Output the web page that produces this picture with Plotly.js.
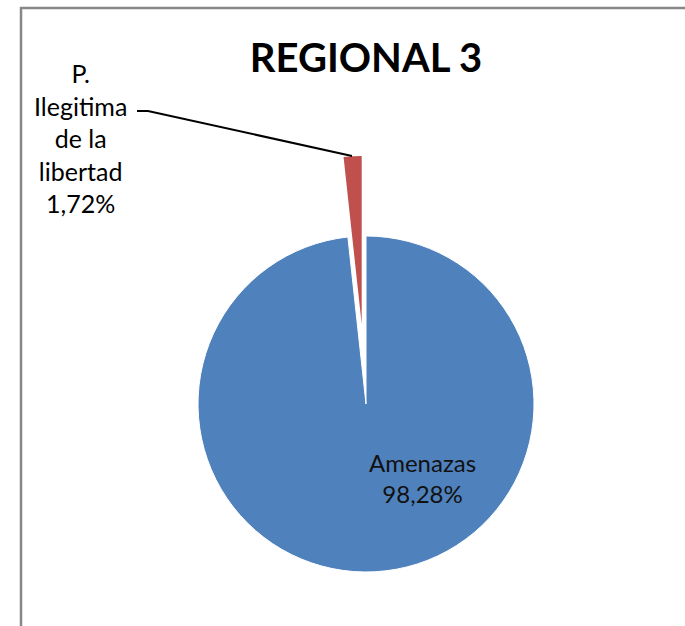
<!DOCTYPE html>
<html>
<head>
<meta charset="utf-8">
<script src="https://cdn.plot.ly/plotly-3.0.1.min.js"></script>
<style>html,body{margin:0;padding:0;background:#fff;overflow:hidden}#chart{width:685px;height:626px}</style>
</head>
<body>
<div id="chart"></div>
<script>
// ---- data ----
var chartTitle = 'REGIONAL 3';
var categories = ['Amenazas', 'P. Ilegitima de la libertad'];
var percents = [98.28, 1.72];
var sliceColors = ['#4F81BD', '#C0504D'];

// ---- helpers ----
function fmtPct(v) { return v.toFixed(2).replace('.', ',') + '%'; }
function wrap(s, maxLen) {
  var words = s.split(' '), lines = [], cur = '';
  words.forEach(function (w) {
    if (cur && (cur + ' ' + w).length > maxLen) { lines.push(cur); cur = w; }
    else { cur = cur ? cur + ' ' + w : w; }
  });
  if (cur) lines.push(cur);
  return lines.join('<br>');
}

var W = 685, H = 626;
var R = 168;
var cx = 366, cy = 404;          // pie centre (px from top-left)
var explode = 80;                 // explode distance for the small slice (px)

function domainFor(x, y, r) {
  return {
    x: [(x - r) / W, (x + r) / W],
    y: [1 - (y + r) / H, 1 - (y - r) / H]
  };
}

// direction of the bisector of the small slice (clockwise from 12 o'clock)
var total = percents.reduce(function (a, b) { return a + b; }, 0);
var midAngle = (percents[0] + percents[1] / 2) / total * 2 * Math.PI;
var ex = cx + explode * Math.sin(midAngle);
var ey = cy - explode * Math.cos(midAngle);

var mainPie = {
  type: 'pie',
  labels: categories,
  values: percents,
  sort: false,
  direction: 'clockwise',
  rotation: 0,
  textinfo: 'none',
  hoverinfo: 'label+percent',
  marker: { colors: [sliceColors[0], 'rgba(0,0,0,0)'], line: { color: '#ffffff', width: [1, 0] } },
  domain: domainFor(cx, cy, R),
  showlegend: false
};

var explodedPie = {
  type: 'pie',
  labels: categories,
  values: percents,
  sort: false,
  direction: 'clockwise',
  rotation: 0,
  textinfo: 'none',
  hoverinfo: 'label+percent',
  marker: { colors: ['rgba(0,0,0,0)', sliceColors[1]], line: { color: '#ffffff', width: [0, 0] } },
  domain: domainFor(ex, ey, R),
  showlegend: false
};

var labelFont = { family: 'Lato, "Liberation Sans", sans-serif', color: '#000000' };

var layout = {
  width: W,
  height: H,
  margin: { l: 0, r: 0, t: 0, b: 0 },
  paper_bgcolor: '#ffffff',
  showlegend: false,
  title: {
    text: '<b>' + chartTitle + '</b>',
    font: { family: 'Lato, "Liberation Sans", sans-serif', size: 40, color: '#000000' },
    x: 366 / W, xanchor: 'center',
    y: 1 - 58 / H, yanchor: 'middle',
    xref: 'paper', yref: 'container'
  },
  shapes: [
    { type: 'rect', xref: 'paper', yref: 'paper',
      x0: 21 / W, x1: 1.05, y0: -0.1, y1: 1 - 8 / H,
      line: { color: '#878787', width: 2.5 }, fillcolor: 'rgba(0,0,0,0)' },
    { type: 'path', xref: 'paper', yref: 'paper',
      path: 'M' + (137 / W) + ',' + (1 - 111 / H) +
            ' L' + (148 / W) + ',' + (1 - 111 / H) +
            ' L' + (352 / W) + ',' + (1 - 156 / H),
      line: { color: '#000000', width: 2 } }
  ],
  annotations: [
    { xref: 'paper', yref: 'paper', x: 422 / W, y: 1 - 478 / H,
      xanchor: 'center', yanchor: 'middle', showarrow: false, align: 'center',
      text: wrap(categories[0], 9) + '<br>' + fmtPct(percents[0]),
      font: Object.assign({ size: 24 }, labelFont, { color: '#111111' }) },
    { xref: 'paper', yref: 'paper', x: 80 / W, y: 1 - 138 / H,
      xanchor: 'center', yanchor: 'middle', showarrow: false, align: 'center',
      text: wrap(categories[1], 9) + '<br>' + fmtPct(percents[1]),
      font: Object.assign({ size: 25 }, labelFont) }
  ]
};

Plotly.newPlot('chart', [mainPie, explodedPie], layout, { displayModeBar: false, staticPlot: false });
</script>
</body>
</html>
